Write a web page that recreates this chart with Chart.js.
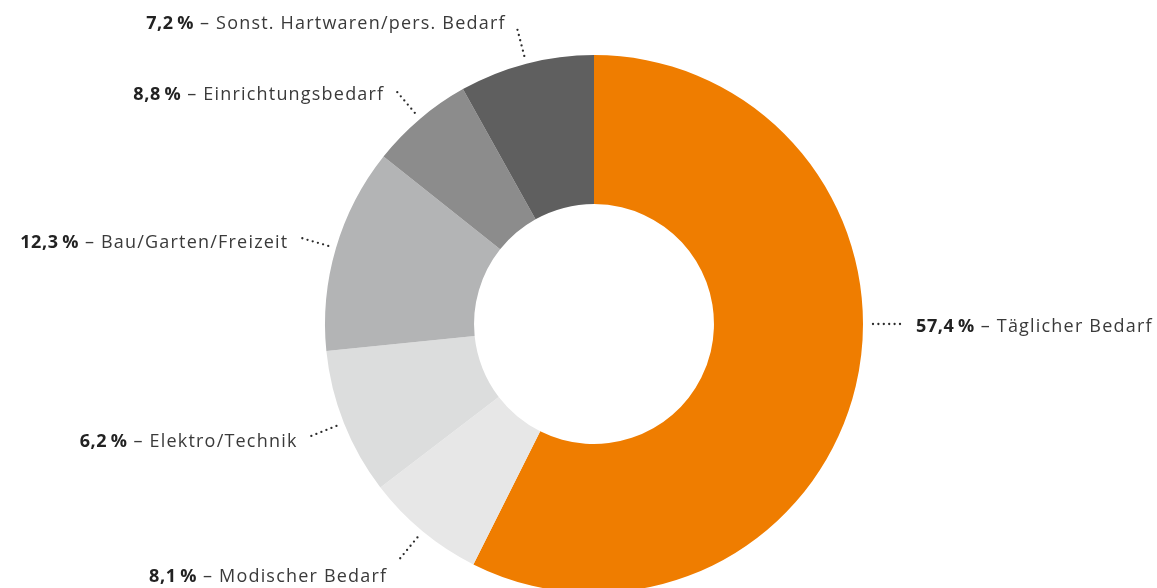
<!DOCTYPE html>
<html lang="de">
<head>
<meta charset="utf-8">
<title>Sortimentsstruktur</title>
<script src="https://cdn.jsdelivr.net/npm/chart.js@4/dist/chart.umd.min.js"></script>
<style>
  html, body { margin: 0; padding: 0; background: #fff; overflow: hidden; }
  #wrap { width: 1157px; height: 588px; overflow: hidden; }
</style>
</head>
<body>
<div id="wrap">
  <canvas id="shareChart" width="1157" height="600"></canvas>
</div>
<script>
// Sortimentsgruppen, im Uhrzeigersinn ab 12 Uhr
const categories = ['Täglicher Bedarf', 'Modischer Bedarf', 'Elektro/Technik', 'Bau/Garten/Freizeit', 'Einrichtungsbedarf', 'Sonst. Hartwaren/pers. Bedarf'];
// Anteile wie beschriftet
const shareLabels = ['57,4', '8,1', '6,2', '12,3', '8,8', '7,2'];
// Segmentgrößen wie in der Grafik gezeichnet
const sliceValues = [57.4, 7.2, 8.8, 12.3, 6.2, 8.1];
const sliceColors = ['#ef7d00', '#e7e7e7', '#dcdddd', '#b3b4b5', '#8c8c8c', '#5f5f5f'];

const FONT = '"Open Sans", sans-serif';

function setFont(ctx, bold) {
  ctx.font = (bold ? '700' : '400') + ' 18px ' + FONT;
  ctx.letterSpacing = bold ? '0.6px' : '1.2px';
}

// Beschriftungen mit gepunkteter Linie außerhalb des Rings
const callouts = {
  id: 'callouts',
  afterDatasetsDraw(chart) {
    const ctx = chart.ctx;
    const meta = chart.getDatasetMeta(0);
    meta.data.forEach((arc, i) => {
      const p = arc.getProps(['x', 'y', 'startAngle', 'endAngle', 'outerRadius'], true);
      let a = (p.startAngle + p.endAngle) / 2;
      const right = Math.cos(a) > 0;
      if (right) a = 0; // rechte Seite: waagerecht
      const dx = Math.cos(a), dy = Math.sin(a);
      const r1 = p.outerRadius + (right ? 10 : 8);
      const r2 = p.outerRadius + (right ? 41 : 38);
      const x1 = p.x + dx * r1, y1 = p.y + dy * r1;
      const x2 = p.x + dx * r2, y2 = p.y + dy * r2;

      ctx.save();
      ctx.strokeStyle = '#2a2a2a';
      ctx.lineWidth = 2.3;
      ctx.lineCap = 'round';
      ctx.setLineDash([0, 5.4]);
      ctx.beginPath();
      ctx.moveTo(x1, y1);
      ctx.lineTo(x2, y2);
      ctx.stroke();
      ctx.setLineDash([]);

      const bold = shareLabels[i] + '\u2009%';
      const rest = ' – ' + categories[i];
      ctx.textBaseline = 'middle';
      ctx.textAlign = 'left';
      setFont(ctx, true);
      const wb = ctx.measureText(bold).width;
      setFont(ctx, false);
      const wr = ctx.measureText(rest).width;

      let left, ty;
      if (right) {
        left = x2 + 12;
        ty = y2 + 3;
      } else {
        left = x2 - 11 - wb - wr;
        ty = y2 + 5 + (dy < -0.9 ? -8 : 0) + (dy > 0.7 ? 11 : 0);
      }
      ctx.fillStyle = '#222';
      setFont(ctx, true);
      ctx.fillText(bold, left, ty);
      ctx.fillStyle = '#3a3a3a';
      setFont(ctx, false);
      ctx.fillText(rest, left + wb, ty);
      ctx.restore();
    });
  }
};

new Chart(document.getElementById('shareChart').getContext('2d'), {
  type: 'doughnut',
  data: {
    labels: categories,
    datasets: [{
      data: sliceValues,
      backgroundColor: sliceColors,
      borderWidth: 0,
      hoverOffset: 0
    }]
  },
  options: {
    responsive: false,
    animation: false,
    cutout: '44.6%',
    layout: { padding: { left: 325, right: 294, top: 55, bottom: 7 } },
    plugins: {
      legend: { display: false },
      tooltip: { enabled: false }
    }
  },
  plugins: [callouts]
});
</script>
</body>
</html>
